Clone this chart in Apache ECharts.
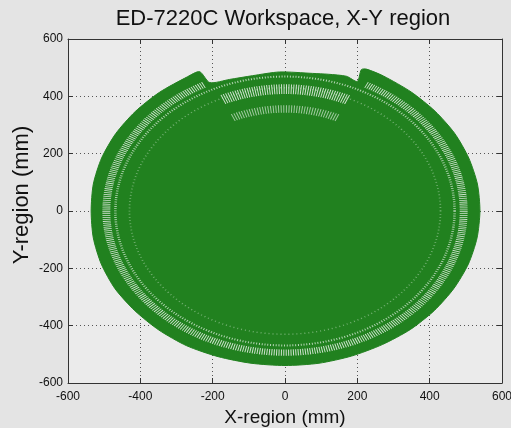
<!DOCTYPE html>
<html><head><meta charset="utf-8">
<script src="https://cdn.jsdelivr.net/npm/echarts@6/dist/echarts.min.js"></script>
<style>html,body{margin:0;padding:0;background:#e4e4e4}#c{width:511px;height:428px}</style>
</head><body><div id="c"></div>
<script>
const titleText = 'ED-7220C Workspace, X-Y region';
const xName = 'X-region (mm)';
const yName = 'Y-region (mm)';
const axisMin = -600, axisMax = 600, tickStep = 200;

// outer boundary of the reachable region (mm)
const outlineX = [-236,-270,-347,-414,-468,-507,-530,-536,-530,-508,-470,-415,-349,-272,-185,-94,0,94,184,269,347,413,467,507,531,539,532,508,469,415,349,272,225,211,200,170,120,76,-15,-90,-153,-208];
const outlineY = [486,468,414,347,270,185,94,0,-94,-185,-271,-348,-415,-470,-508,-531,-539,-531,-506,-466,-413,-347,-270,-185,-94,0,94,185,271,348,415,471,495,493,452,470,477,480,485,472,459,448];

// lighter hatched rings inside the region (radius mm, start/end angle deg, band width mm, style)
const ringRadius = [494, 469, 430, 425, 356];
const ringStartDeg = [117, 0, 0, 66, 66];
const ringEndDeg = [423, 360, 360, 114, 114];
const ringWidth = [22, 7, 5, 34, 26];
const ringKind = [0, 1, 2, 0, 3];

const FONT = "'Liberation Sans', Arial, Helvetica, sans-serif";
const ringStyles = [
  {stroke:'rgba(224,236,224,0.92)', dash:[1,1.4]},
  {stroke:'rgba(210,230,210,0.85)', dash:[1,1.8]},
  {stroke:'rgba(185,218,185,0.55)', dash:[1,3]},
  {stroke:'rgba(205,228,205,0.75)', dash:[1,1.6]}
];

const outlineData = outlineX.map((x,i)=>[x, outlineY[i]]);
const ringData = ringRadius.map((r,i)=>[r, ringStartDeg[i], ringEndDeg[i], ringWidth[i], ringKind[i]]);

const chart = echarts.init(document.getElementById('c'), null, {renderer:'canvas'});
const axisCommon = {
  type:'value', min:axisMin, max:axisMax, interval:tickStep,
  axisLine:{show:true, onZero:false, lineStyle:{color:'#333', width:1}},
  axisTick:{show:true, inside:true, length:5, lineStyle:{color:'#333'}},
};
chart.setOption({
  backgroundColor:'#e4e4e4',
  animation:false,
  title:{text:titleText, left:283, top:8, textAlign:'center', padding:0,
    textStyle:{fontSize:22, fontWeight:'normal', color:'#111', fontFamily:FONT}},
  grid:{left:68, right:9, top:39, bottom:45, show:true, backgroundColor:'#ebebeb', borderWidth:0, containLabel:false, outerBoundsMode:'none'},
  xAxis:[
    Object.assign({}, axisCommon, {position:'bottom',
      axisLabel:{fontSize:12, color:'#111', margin:8, fontFamily:FONT},
      splitLine:{show:true, lineStyle:{color:'#555', type:[1,3], width:1}},
      name:xName, nameLocation:'middle', nameGap:25, nameMoveOverlap:false,
      nameTextStyle:{fontSize:19, color:'#111', fontFamily:FONT}}),
    Object.assign({}, axisCommon, {position:'top', axisLabel:{show:false}, splitLine:{show:false}})
  ],
  yAxis:[
    Object.assign({}, axisCommon, {position:'left',
      axisLabel:{fontSize:12, color:'#111', margin:5, fontFamily:FONT},
      splitLine:{show:true, lineStyle:{color:'#555', type:[1,3], width:1}},
      name:yName, nameLocation:'middle', nameGap:35, nameMoveOverlap:false,
      nameTextStyle:{fontSize:22, color:'#111', fontFamily:FONT, padding:[0,0,0,32]}}),
    Object.assign({}, axisCommon, {position:'right', axisLabel:{show:false}, splitLine:{show:false}})
  ],
  series:[
    {
      type:'custom', name:'workspace', xAxisIndex:0, yAxisIndex:0,
      data: outlineData, encode:{x:0, y:1}, silent:true,
      renderItem:function(params, api){
        if (params.dataIndex !== 0) return null;
        const pts = outlineData.map(p => api.coord(p));
        return {type:'polygon', shape:{points:pts, smooth:0.25}, style:{fill:'#21811f', stroke:'#21811f', lineWidth:1}};
      }
    },
    {
      type:'custom', name:'rings', xAxisIndex:0, yAxisIndex:0,
      data: ringData, encode:{x:-1, y:-1}, silent:true,
      renderItem:function(params, api){
        const r = api.value(0), s = api.value(1), e = api.value(2), w = api.value(3), k = api.value(4);
        const c = api.coord([0,0]);
        const rx = api.size([r,0])[0], ry = api.size([0,r])[1];
        const lw = api.size([w,0])[0];
        const st = ringStyles[k];
        return {type:'arc', x:c[0], y:c[1], scaleX:1, scaleY:ry/rx,
          shape:{cx:0, cy:0, r:rx, startAngle:-s*Math.PI/180, endAngle:-e*Math.PI/180, clockwise:false},
          style:{fill:null, stroke:st.stroke, lineWidth:lw, lineDash:st.dash}};
      }
    }
  ]
});
</script></body></html>
